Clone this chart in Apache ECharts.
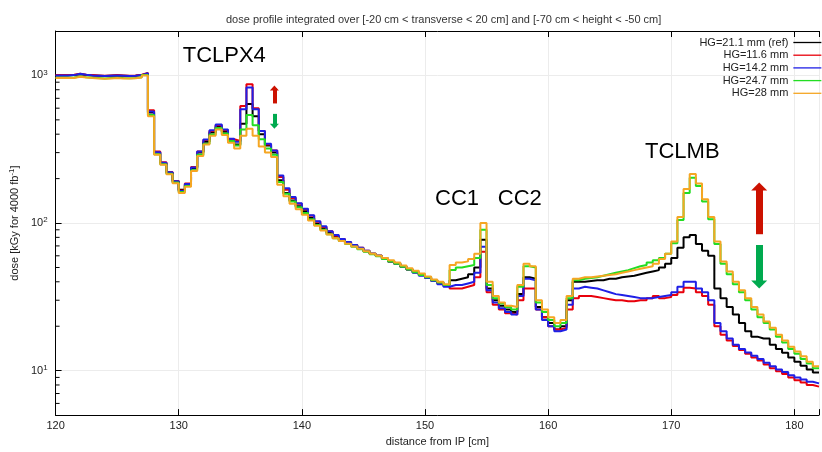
<!DOCTYPE html>
<html>
<head>
<meta charset="utf-8">
<script src="https://cdn.jsdelivr.net/npm/echarts@6/dist/echarts.min.js"></script>
<style>
  html, body { margin: 0; padding: 0; background: #fff; }
  #chart { width: 822px; height: 452px; }
</style>
</head>
<body>
<div id="chart"></div>
<script>
// bins of 0.5 cm, left edges from 120.0 to 181.5 (124 bins), plot ends at 182
const BIN_START = 120;
const BIN_WIDTH = 0.5;
const X_MIN = 120;
const X_MAX = 182;

const seriesNames = ["HG=21.1 mm (ref)", "HG=11.6 mm", "HG=14.2 mm", "HG=24.7 mm", "HG=28 mm"];
const seriesColors = ["#000000", "#e8000b", "#1f1fe6", "#22dd22", "#f5a623"];

// dose per bin [kGy for 4000 fb-1]
// 120.0 - 151.5 cm
const refA = [1000, 1000, 1005, 1020, 1005, 1000, 995, 990, 995, 1000, 995, 990, 995, 1005, 1035,
  560, 300, 255, 220, 192, 168, 182, 235, 300, 355, 410, 450, 415, 365, 340,
  470, 640, 530, 400, 335, 300, 195, 160, 142, 130, 120, 108, 99, 92, 86, 81,
  77, 73.5, 70.5, 67.5, 64.5, 62, 60, 57.5, 55, 53, 50.5, 48.5, 46.5, 44.5, 43, 41, 39.5, 38];
const hg116A = [1005, 1005, 1010, 1025, 1010, 1005, 1000, 995, 1000, 1005, 1000, 995, 1000, 1010, 1040,
  580, 305, 258, 222, 193, 166, 185, 240, 305, 365, 420, 460, 425, 370, 360,
  620, 870, 600, 420, 340, 310, 205, 168, 148, 135, 124, 112, 102, 94, 88, 82,
  78, 74, 71, 68, 65, 62, 60, 57.5, 55, 53, 50.5, 48.5, 46.5, 44.5, 42.5, 40.5, 39, 37.5];
const hg142A = [1000, 1000, 1005, 1025, 1010, 1000, 995, 990, 995, 1000, 995, 990, 995, 1005, 1035,
  570, 302, 256, 221, 192, 165, 184, 238, 305, 368, 425, 465, 430, 372, 355,
  590, 830, 590, 420, 345, 310, 210, 172, 150, 136, 125, 113, 103, 95, 88, 83,
  78, 74.5, 71, 68, 65, 62, 60, 57.5, 55, 53, 50.5, 48.5, 46, 44, 42.5, 40.5, 38.5, 37];
const hg247A = [965, 965, 968, 985, 972, 965, 960, 955, 960, 965, 960, 958, 962, 972, 1005,
  540, 292, 250, 216, 188, 162, 178, 228, 290, 345, 398, 440, 405, 360, 335,
  430, 540, 460, 370, 320, 290, 190, 158, 140, 128, 117, 106, 97, 90, 84, 79,
  75.5, 72, 69, 66.5, 64, 61.5, 59.5, 57, 55, 53, 50.5, 48.5, 46.5, 44.5, 43, 41, 39.5, 38];
const hg28A = [960, 960, 962, 980, 968, 960, 955, 950, 955, 960, 955, 952, 958, 968, 1000,
  530, 290, 248, 214, 186, 160, 176, 225, 285, 340, 390, 430, 395, 350, 320,
  390, 436, 390, 330, 300, 280, 182, 152, 135, 124, 114, 104, 96, 89, 83.5, 79,
  75.5, 72.5, 69.5, 67, 64.5, 62, 60, 58, 56, 54, 51.5, 49.5, 47.5, 45.5, 43.5, 41.5, 40, 38.5];

// 152.0 - 161.5 cm (CC1, CC2)
const refB   = [41, 42, 43, 45, 50, 77, 36, 30, 27.5, 26, 25, 33, 43, 42, 27, 23, 21, 19, 20, 30];
const hg116B = [36, 36, 37, 38, 43, 64, 34, 28, 26, 24.5, 24, 30, 36, 36, 26, 23, 20, 19, 19.5, 26];
const hg142B = [38, 38, 39, 40, 46, 69, 35, 29, 26.5, 25, 24, 32, 42, 41, 26, 22, 20, 18.5, 19, 28];
const hg247B = [48, 50, 51, 52, 58, 90, 38, 31, 28.5, 27, 26, 37, 51, 50, 29, 25, 22, 20, 21, 31];
const hg28B  = [52, 54, 55, 57, 62, 100, 40, 32, 29, 27.5, 27, 38, 53, 51, 30, 26, 23, 21, 22, 32];

// 162.0 - 181.5 cm (TCLMB)
const refC = [40, 40, 40.5, 41, 41, 42, 42, 43, 43.5, 44, 45, 46, 47, 48, 50, 53, 58, 68, 80, 83,
  72, 65, 60, 36, 31, 27, 24, 21, 18.5, 17, 16.5, 16.5, 15, 14, 13.2, 12.3, 11.5, 10.8, 10.2, 9.7];
const hg116C = [31, 32, 32, 31.5, 31, 30.5, 30, 30, 29.5, 29.5, 30, 30, 31, 32, 31, 31.5, 32.5, 34, 36.5, 36,
  34, 32, 28, 20, 17.5, 16, 14.7, 13.8, 13, 12.3, 11.7, 11, 10.4, 9.9, 9.5, 9, 8.6, 8.3, 8, 7.8];
const hg142C = [36, 37, 36.5, 36, 35, 34, 33, 32.5, 32, 31.5, 31, 31, 31, 31.5, 32, 32.5, 34, 37, 40, 40,
  36, 34, 30, 21, 18.5, 16.5, 15, 14, 13.3, 12.6, 12, 11.3, 10.7, 10.2, 9.8, 9.3, 9, 8.7, 8.4, 8.2];
const hg247C = [41, 42, 42.5, 43, 44, 45, 46, 47, 48, 49.5, 51, 52, 54, 56, 58, 62, 73, 105, 160, 203,
  178, 140, 106, 72, 53, 45, 38.5, 34, 30, 26, 23, 21, 19, 17, 15.5, 14, 13, 12, 11.2, 10.4];
const hg28C = [42, 43, 43, 43.5, 44, 44.5, 45, 46, 47, 48, 49, 50, 51, 53, 57, 62, 75, 110, 170, 215,
  185, 145, 110, 75, 55, 47, 40, 35, 31, 27, 24, 21.5, 19.5, 17.5, 16, 14.5, 13.5, 12.5, 11.5, 10.7];

const seriesValues = [
  refA.concat(refB, refC),
  hg116A.concat(hg116B, hg116C),
  hg142A.concat(hg142B, hg142C),
  hg247A.concat(hg247B, hg247C),
  hg28A.concat(hg28B, hg28C),
];

const yMajorTicks = [10, 100, 1000];
const yMinorTicks = [6, 7, 8, 9, 20, 30, 40, 50, 60, 70, 80, 90, 200, 300, 400, 500, 600, 700, 800, 900];

// annotations (data coordinates)
const labels = [
  { text: "TCLPX4", x: 133.7, y: 1360 },
  { text: "CC1", x: 152.6, y: 146 },
  { text: "CC2", x: 157.7, y: 146 },
  { text: "TCLMB", x: 170.9, y: 303 },
];
const arrows = [
  { x: 137.77, from: 646, to: 822, color: "#cc1100", width: 4, head: [9, 5] },
  { x: 137.77, from: 549, to: 452, color: "#00aa4f", width: 4, head: [9, 5] },
  { x: 177.14, from: 84, to: 177, color: "#cc1100", width: 7, head: [16, 8] },
  { x: 177.14, from: 71, to: 38.3, color: "#00aa4f", width: 7, head: [16, 8] },
];

function toSteps(values) {
  const pts = values.map((v, i) => [BIN_START + i * BIN_WIDTH, v]);
  pts.push([X_MAX, values[values.length - 1]]);
  return pts;
}

const chart = echarts.init(document.getElementById("chart"));

const series = seriesNames.map((name, i) => ({
  name: name,
  type: "line",
  step: "end",
  symbol: "none",
  data: toSteps(seriesValues[i]),
  lineStyle: { color: seriesColors[i], width: 2 },
  itemStyle: { color: seriesColors[i] },
  z: 3 + i,
}));

// text and arrows sit on the ref series
series[0].markPoint = {
  silent: true,
  symbol: "circle",
  symbolSize: 1,
  itemStyle: { color: "rgba(0,0,0,0)" },
  label: {
    show: true,
    position: "inside",
    color: "#000",
    fontSize: 22,
    fontFamily: "Liberation Sans, Arial, sans-serif",
    formatter: (p) => p.name,
  },
  data: labels.map((l) => ({ name: l.text, coord: [l.x, l.y] })),
};
series[0].markLine = {
  silent: true,
  symbol: ["none", "triangle"],
  label: { show: false },
  data: arrows.map((a) => [
    { coord: [a.x, a.from], symbolSize: a.head, lineStyle: { color: a.color, width: a.width, type: "solid" }, itemStyle: { color: a.color } },
    { coord: [a.x, a.to], symbolSize: a.head },
  ]),
};

// minor ticks on the log axis (2..9 per decade)
series.push({
  type: "custom",
  silent: true,
  z: 10,
  data: yMinorTicks.map((v) => [X_MIN, v]),
  renderItem: (params, api) => {
    const p = api.coord([api.value(0), api.value(1)]);
    return {
      type: "line",
      shape: { x1: p[0], y1: p[1], x2: p[0] + 4, y2: p[1] },
      style: { stroke: "#000", lineWidth: 1 },
    };
  },
});

const option = {
  animation: false,
  backgroundColor: "#fff",
  title: {
    text: "dose profile integrated over [-20 cm < transverse < 20 cm] and [-70 cm < height < -50 cm]",
    left: 221,
    top: 9,
    textStyle: { fontSize: 11, fontWeight: "normal", color: "#333", fontFamily: "Liberation Sans, Arial, sans-serif" },
  },
  legend: {
    data: seriesNames,
    orient: "vertical",
    right: 0,
    top: 37,
    padding: 0,
    align: "right",
    itemWidth: 28,
    itemHeight: 10,
    itemGap: 1.7,
    itemStyle: { opacity: 0 },
    lineStyle: { width: 1.3 },
    textStyle: { fontSize: 11, color: "#222", fontFamily: "Liberation Sans, Arial, sans-serif" },
  },
  grid: { left: 52, right: 0, top: 31, bottom: 30 },
  xAxis: [
    {
      type: "value",
      min: X_MIN,
      max: X_MAX,
      interval: 10,
      name: "distance from IP [cm]",
      nameLocation: "middle",
      nameGap: 16,
      nameTextStyle: { fontSize: 11, color: "#222", fontFamily: "Liberation Sans, Arial, sans-serif" },
      axisLine: { lineStyle: { color: "#000", width: 1 } },
      axisTick: { inside: true, length: 6, lineStyle: { color: "#000" } },
      axisLabel: {
        fontSize: 11,
        color: "#222",
        margin: 5,
        fontFamily: "Liberation Sans, Arial, sans-serif",
        formatter: (v) => (v % 10 === 0 ? String(v) : ""),
      },
      splitLine: { show: true, lineStyle: { color: "#ececec", width: 1 } },
    },
    {
      type: "value",
      position: "top",
      min: X_MIN,
      max: X_MAX,
      interval: 10,
      axisLine: { show: true, lineStyle: { color: "#000", width: 1 } },
      axisTick: { show: true, inside: true, length: 6, lineStyle: { color: "#000" } },
      axisLabel: { show: false },
      splitLine: { show: false },
    },
  ],
  yAxis: {
    type: "log",
    logBase: 10,
    min: 5,
    max: 2000,
    name: "dose [kGy for 4000 fb{sup|-1}]",
    nameLocation: "middle",
    nameGap: 30,
    nameTextStyle: {
      fontSize: 11,
      color: "#222",
      fontFamily: "Liberation Sans, Arial, sans-serif",
      rich: { sup: { fontSize: 8, verticalAlign: "top", color: "#222", padding: [0, 0, 5, 0] } },
    },
    axisLine: { show: true, lineStyle: { color: "#000", width: 1 } },
    axisTick: { inside: true, length: 6, lineStyle: { color: "#000" } },
    axisLabel: {
      fontSize: 11,
      color: "#222",
      margin: 8,
      fontFamily: "Liberation Sans, Arial, sans-serif",
      formatter: (v) => {
        const e = Math.round(Math.log10(v));
        if (yMajorTicks.indexOf(Math.pow(10, e)) < 0 || Math.abs(v - Math.pow(10, e)) > 1e-6 * v) return "";
        return "10{sup|" + e + "}";
      },
      rich: { sup: { fontSize: 8, verticalAlign: "top", padding: [0, 0, 6, 0], color: "#222" } },
    },
    splitLine: { show: true, lineStyle: { color: "#ececec", width: 1 } },
  },
  series: series,
};

chart.setOption(option);
</script>
</body>
</html>
